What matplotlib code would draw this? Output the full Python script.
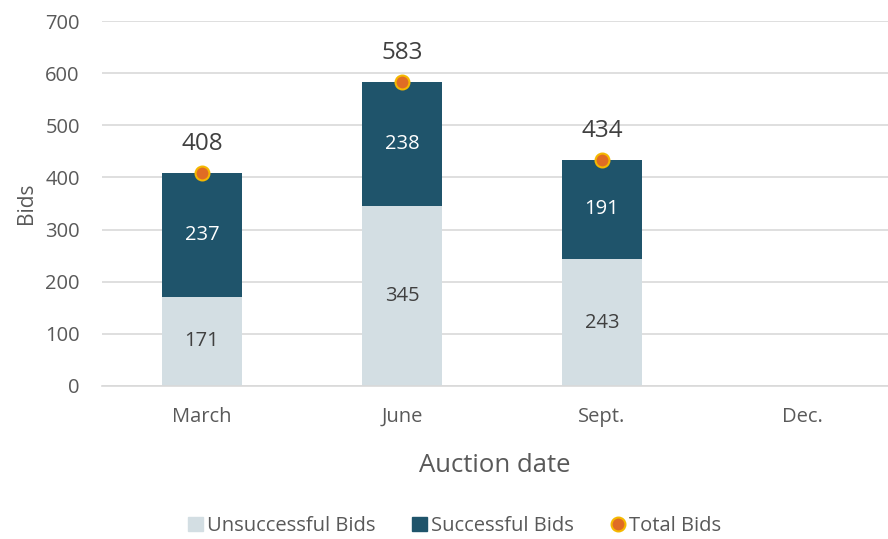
import matplotlib.pyplot as plt
from matplotlib.lines import Line2D
from matplotlib.patches import Patch

plt.rcParams['font.family'] = ['Open Sans', 'DejaVu Sans']

dates = ['March', 'June', 'Sept.', 'Dec.']
unsuccessful = [171, 345, 243]
successful = [237, 238, 191]
totals = [408, 583, 434]

c_uns = '#D3DEE3'
c_suc = '#1F546B'
c_txt = '#595959'

fig = plt.figure(figsize=(8.88, 5.39), dpi=100)
ax = fig.add_axes([0.1149, 0.2839, 0.8851, 0.6771])

x = list(range(len(unsuccessful)))
ax.bar(x, unsuccessful, width=0.4, color=c_uns, zorder=2)
ax.bar(x, successful, width=0.4, bottom=unsuccessful, color=c_suc, zorder=2)
ax.plot(x, totals, linestyle='none', marker='o', markersize=10,
        markerfacecolor='#E06C24', markeredgecolor='#F5B800', markeredgewidth=1.5, zorder=3)

for i in x:
    ax.text(i, unsuccessful[i] / 2, str(unsuccessful[i]), ha='center', va='center',
            fontsize=14.5, color='#404040')
    ax.text(i, unsuccessful[i] + successful[i] / 2, str(successful[i]), ha='center',
            va='center', fontsize=14.5, color='white')
    ax.annotate(str(totals[i]), (i, totals[i]), xytext=(0, 21), textcoords='offset points',
                ha='center', va='center', fontsize=17.5, color='#404040')

ax.set_xlim(-0.5, 3.43)
ax.set_ylim(0, 700)
ax.set_yticks(range(0, 701, 100))
ax.set_xticks(range(len(dates)))
ax.set_xticklabels(dates)
ax.yaxis.grid(True, color='#D9D9D9', linewidth=1.2, zorder=0)
ax.set_axisbelow(True)
for s in ['top', 'right', 'left']:
    ax.spines[s].set_visible(False)
ax.spines['bottom'].set_color('#D9D9D9')
ax.spines['bottom'].set_linewidth(1.2)
ax.tick_params(axis='both', length=0, labelsize=14.5, labelcolor=c_txt)
ax.tick_params(axis='x', pad=15)
ax.tick_params(axis='y', pad=16)
ax.set_ylabel('Bids', fontsize=15, color=c_txt, labelpad=6)
ax.set_xlabel('Auction date', fontsize=18.5, color=c_txt, labelpad=19)

handles = [Patch(color=c_uns, label='Unsuccessful Bids'),
           Patch(color=c_suc, label='Successful Bids'),
           Line2D([], [], linestyle='none', marker='o', markersize=10,
                  markerfacecolor='#E06C24', markeredgecolor='#F5B800',
                  markeredgewidth=1.5, label='Total Bids')]
leg = fig.legend(handles=handles, loc='center', bbox_to_anchor=(0.512, 0.024), ncol=3,
                 frameon=False, fontsize=14.5, handlelength=0.75, handleheight=0.75,
                 handletextpad=0.2, columnspacing=1.8)
for t in leg.get_texts():
    t.set_color(c_txt)

fig.savefig('out.png', dpi=100)
